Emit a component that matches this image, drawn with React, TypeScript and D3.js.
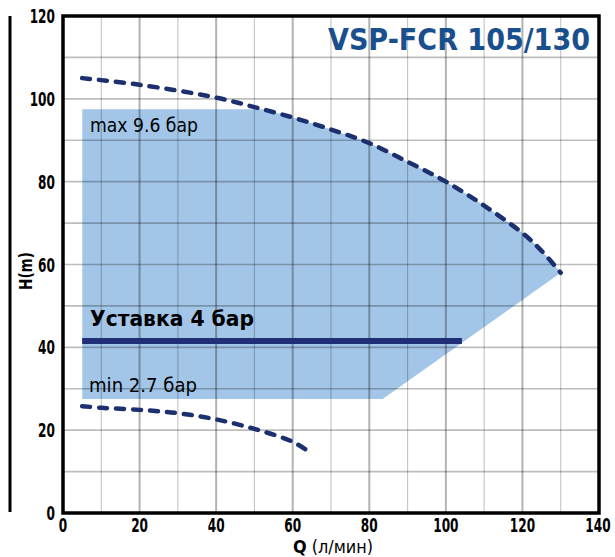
import React from "react";
import * as d3 from "d3";

const upperQ = [5, 20, 40, 50, 60, 70, 80, 90, 100, 110, 120, 125, 130];
const upperH = [105, 103.4, 100.3, 98, 95.5, 92.6, 89.3, 84.8, 80, 74.2, 67.6, 63.3, 58];
const lowerQ = [5, 10, 20, 30, 40, 50, 60, 64.5];
const lowerH = [25.8, 25.4, 24.9, 24.1, 22.6, 20.3, 17.2, 14.6];
const regionQ = [5, 131, 130, 83.5, 5];
const regionH = [97.5, 97.5, 58, 27.5, 27.5];
const setpointQ = [5, 104.2];
const setpointH = [41.5, 41.5];
const xTicks = [0, 20, 40, 60, 80, 100, 120, 140];
const yTicks = [0, 20, 40, 60, 80, 100, 120];
const title = "VSP-FCR 105/130";
const maxLabel = "max 9.6 бар";
const minLabel = "min 2.7 бар";
const setLabel = "Уставка 4 бар";

const W = 615, H = 557;
const L = 63, R = 599, T = 16, B = 513;
const FONT = "'DejaVu Sans Condensed', 'DejaVu Sans', sans-serif";

export default function App() {
  const x = d3.scaleLinear().domain([0, 140]).range([L, R]);
  const y = d3.scaleLinear().domain([0, 120]).range([B, T]);
  const upper = upperQ.map((q, i) => [q, upperH[i]] as [number, number]);
  const lower = lowerQ.map((q, i) => [q, lowerH[i]] as [number, number]);
  const line = d3.line<[number, number]>().x(d => x(d[0])).y(d => y(d[1])).curve(d3.curveCatmullRom);
  const area = d3.area<[number, number]>().x(d => x(d[0])).y0(y(0)).y1(d => y(d[1])).curve(d3.curveCatmullRom);
  const region = regionQ.map((q, i) => [x(q), y(regionH[i])].join(",")).join(" ");
  const gridX = d3.range(0, 141, 10);
  const gridY = d3.range(0, 121, 10);
  const dash = "#1c2f6e";
  const sx = 0.71;
  return (
    <svg width={W} height={H} style={{ position: "absolute", left: 0, top: 0, background: "#fff" }}>
      <defs>
        <clipPath id="under">
          <path d={area(upper) || ""} />
        </clipPath>
      </defs>
      <polygon points={region} fill="#a3c6e8" clipPath="url(#under)" />
      {gridX.map(v => (
        <line key={"gx" + v} x1={x(v)} x2={x(v)} y1={T} y2={B}
          stroke="#000" strokeOpacity={v % 20 === 0 ? 0.3 : 0.22} strokeWidth={v % 20 === 0 ? 2 : 1.2} />
      ))}
      {gridY.map(v => (
        <line key={"gy" + v} x1={L} x2={R} y1={y(v)} y2={y(v)}
          stroke="#000" strokeOpacity={0.26} strokeWidth={1.6} />
      ))}
      <line x1={10} x2={10} y1={16} y2={512} stroke="#000" strokeWidth={3} />
      <rect x={L} y={T} width={R - L} height={B - T} fill="none" stroke="#000" strokeWidth={3.5} />
      <path d={line(upper) || ""} fill="none" stroke={dash} strokeWidth={4.5} strokeLinecap="round" strokeDasharray="8 9" />
      <path d={line(lower) || ""} fill="none" stroke={dash} strokeWidth={4.5} strokeLinecap="round" strokeDasharray="8 9" />
      <line x1={x(setpointQ[0])} x2={x(setpointQ[1])} y1={y(setpointH[0])} y2={y(setpointH[1])} stroke="#1f2f78" strokeWidth={6} />
      <g fontFamily={FONT}>
        {yTicks.map(v => (
          <text key={"yt" + v} transform={`translate(55,${y(v) + 7}) scale(${sx},1)`} textAnchor="end"
            fontSize={19} fontWeight="bold">{v}</text>
        ))}
        {xTicks.map(v => (
          <text key={"xt" + v} transform={`translate(${v === 140 ? x(v) - 1 : x(v)},532) scale(${sx},1)`}
            textAnchor="middle" fontSize={19} fontWeight="bold">{v}</text>
        ))}
        <text x={590} y={50} textAnchor="end" fontSize={31} fontWeight="bold" fill="#1a4f8e"
          textLength={262} lengthAdjust="spacingAndGlyphs">{title}</text>
        <text x={90} y={132} fontSize={19} textLength={108} lengthAdjust="spacingAndGlyphs">{maxLabel}</text>
        <text x={89} y={392} fontSize={19} textLength={108} lengthAdjust="spacingAndGlyphs">{minLabel}</text>
        <text x={90} y={326} fontSize={22} fontWeight="bold" textLength={164} lengthAdjust="spacingAndGlyphs">{setLabel}</text>
        <text transform="translate(32,271) rotate(-90)" textAnchor="middle" fontSize={17} fontWeight="bold"
          textLength={38} lengthAdjust="spacingAndGlyphs">H(m)</text>
        <text x={333} y={553} textAnchor="middle" fontSize={18} textLength={80} lengthAdjust="spacingAndGlyphs">
          <tspan fontWeight="bold">Q</tspan> (л/мин)
        </text>
      </g>
    </svg>
  );
}
